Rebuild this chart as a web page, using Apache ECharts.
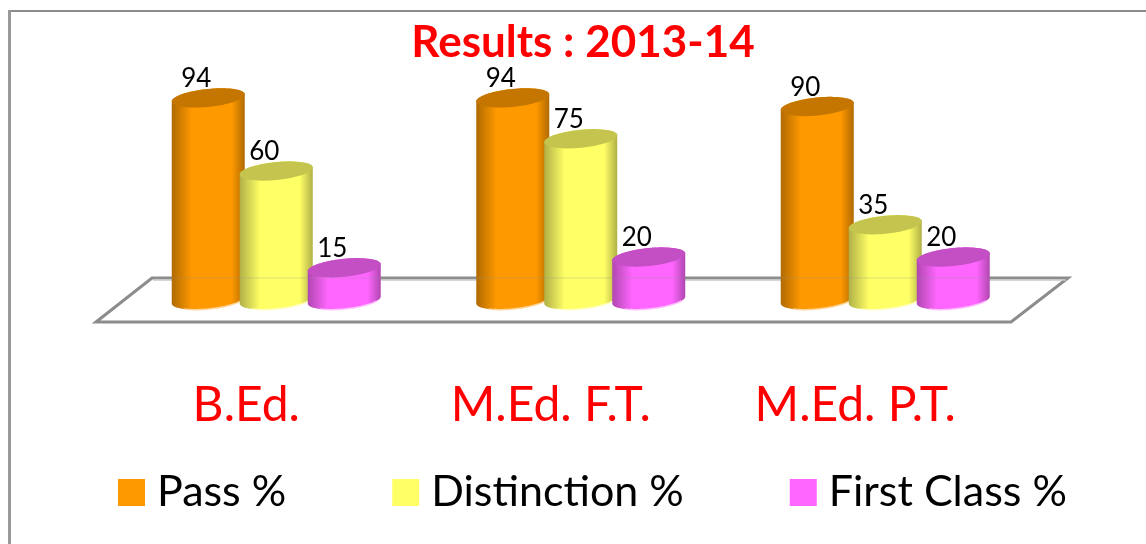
<!DOCTYPE html>
<html>
<head>
<meta charset="utf-8">
<title>Results : 2013-14</title>
<script src="https://cdn.jsdelivr.net/npm/echarts@6/dist/echarts.min.js"></script>
<style>
html,body{margin:0;padding:0;background:#fff}
#main{width:1146px;height:544px}
</style>
</head>
<body>
<div id="main"></div>
<script>
// data
var categories = ['B.Ed.', 'M.Ed. F.T.', 'M.Ed. P.T.']
var passValues = [94, 94, 90]
var distinctionValues = [60, 75, 35]
var firstClassValues = [15, 20, 20]

var FONT = 'Lato'

// cylinder colours: side edge, side middle, top face, pale bottom rim
var palette = {
    pass: { edge: '#b06a00', mid: '#ff9900', top: '#c47600', rim: '#ffd699' },
    distinction: { edge: '#b0b047', mid: '#ffff66', top: '#c4c44e', rim: '#ffffc2' },
    firstClass: { edge: '#b047b0', mid: '#ff66ff', top: '#c44ec4', rim: '#ffc2ff' }
}

// point on the slanted ellipse which closes a cylinder
function rim(cx, cy, a, b, k, t) {
    return [cx + a * Math.cos(t), cy + b * Math.sin(t) - k * Math.cos(t)]
}

function cylinder(offset, colors) {
    return function (params, api) {
        var catIdx = api.value(0)
        var val = api.value(1)
        var top = api.coord([catIdx, val])
        var base = api.coord([catIdx, 0])
        var band = api.size([1, 0])[0]
        var cx = top[0] + offset * band
        var a = 36.5, b = 9, k = 3.5
        var i, t

        var front = []
        for (i = 0; i <= 40; i++) {
            t = Math.PI * i / 40
            front.push(rim(cx, base[1], a, b, k, t))
        }
        var side = front.slice()
        for (i = 0; i <= 40; i++) {
            t = Math.PI + Math.PI * i / 40
            side.push(rim(cx, top[1], a, b, k, t))
        }
        var face = []
        for (i = 0; i < 80; i++) {
            t = 2 * Math.PI * i / 80
            face.push(rim(cx, top[1], a, b, k, t))
        }
        return {
            type: 'group',
            children: [
                {
                    type: 'polygon',
                    shape: { points: side },
                    style: {
                        fill: new echarts.graphic.LinearGradient(0, 0, 1, 0, [
                            { offset: 0, color: colors.edge },
                            { offset: 0.28, color: colors.mid },
                            { offset: 0.82, color: colors.mid },
                            { offset: 1, color: colors.edge }
                        ])
                    }
                },
                {
                    type: 'polyline',
                    shape: { points: front.slice(6, 30) },
                    style: { fill: 'none', stroke: colors.rim, lineWidth: 1.5 }
                },
                { type: 'polygon', shape: { points: face }, style: { fill: colors.top } },
                {
                    type: 'text',
                    style: {
                        x: cx - 12,
                        y: top[1] - 6,
                        text: String(val),
                        fill: '#000',
                        font: '26px ' + FONT,
                        align: 'center',
                        verticalAlign: 'bottom'
                    }
                }
            ]
        }
    }
}

function makeSeries(name, values, offset, colors) {
    return {
        name: name,
        type: 'custom',
        clip: false,
        itemStyle: { color: colors.mid },
        encode: { x: 0, y: 1 },
        renderItem: cylinder(offset, colors),
        data: values.map(function (v, i) { return [i, v] })
    }
}

var myChart = echarts.init(document.getElementById('main'))
myChart.setOption({
    animation: false,
    backgroundColor: '#fff',
    title: {
        text: 'Results : 2013-14',
        left: 578,
        top: 16,
        textAlign: 'center',
        textStyle: { color: '#ff0000', fontFamily: FONT, fontWeight: 'bold', fontSize: 44 }
    },
    legend: {
        left: 113,
        top: 466,
        icon: 'rect',
        itemWidth: 27,
        itemHeight: 27,
        itemGap: 106,
        textStyle: { color: '#000', fontFamily: FONT, fontSize: 43, padding: [0, 0, 0, 7] }
    },
    grid: { left: 124, width: 913.5, top: 85, height: 215 },
    xAxis: {
        type: 'category',
        data: categories,
        axisLine: { show: false },
        axisTick: { show: false },
        axisLabel: {
            color: '#ff0000',
            fontFamily: FONT,
            fontSize: 48,
            margin: 82,
            padding: [0, 60, 0, 0]
        }
    },
    yAxis: { type: 'value', min: 0, max: 100, show: false },
    graphic: [
        // frame, top and left only
        { type: 'line', z: 0, shape: { x1: 9.5, y1: 11, x2: 1146, y2: 11 }, style: { stroke: '#8c8c8c', lineWidth: 2 } },
        { type: 'line', z: 0, shape: { x1: 9.5, y1: 10, x2: 9.5, y2: 544 }, style: { stroke: '#999', lineWidth: 3 } },
        // floor of the 3d chart
        {
            type: 'polygon',
            z: 0,
            shape: { points: [[96, 322], [152, 278], [1068, 278], [1011, 322]] },
            style: { fill: '#fff', stroke: '#8c8c8c', lineWidth: 3 }
        },
        { type: 'line', z: 0, shape: { x1: 153, y1: 280, x2: 1066, y2: 280 }, style: { stroke: '#c8c8c8', lineWidth: 1.5 } },
        // back edge shows faintly through the cylinders
        { type: 'line', z: 10, shape: { x1: 172, y1: 278, x2: 990, y2: 278 }, style: { stroke: 'rgba(150,150,150,0.15)', lineWidth: 2 } }
    ],
    series: [
        makeSeries('Pass %', passValues, -0.2233, palette.pass),
        makeSeries('Distinction %', distinctionValues, 0, palette.distinction),
        makeSeries('First Class %', firstClassValues, 0.2233, palette.firstClass)
    ]
})
</script>
</body>
</html>
